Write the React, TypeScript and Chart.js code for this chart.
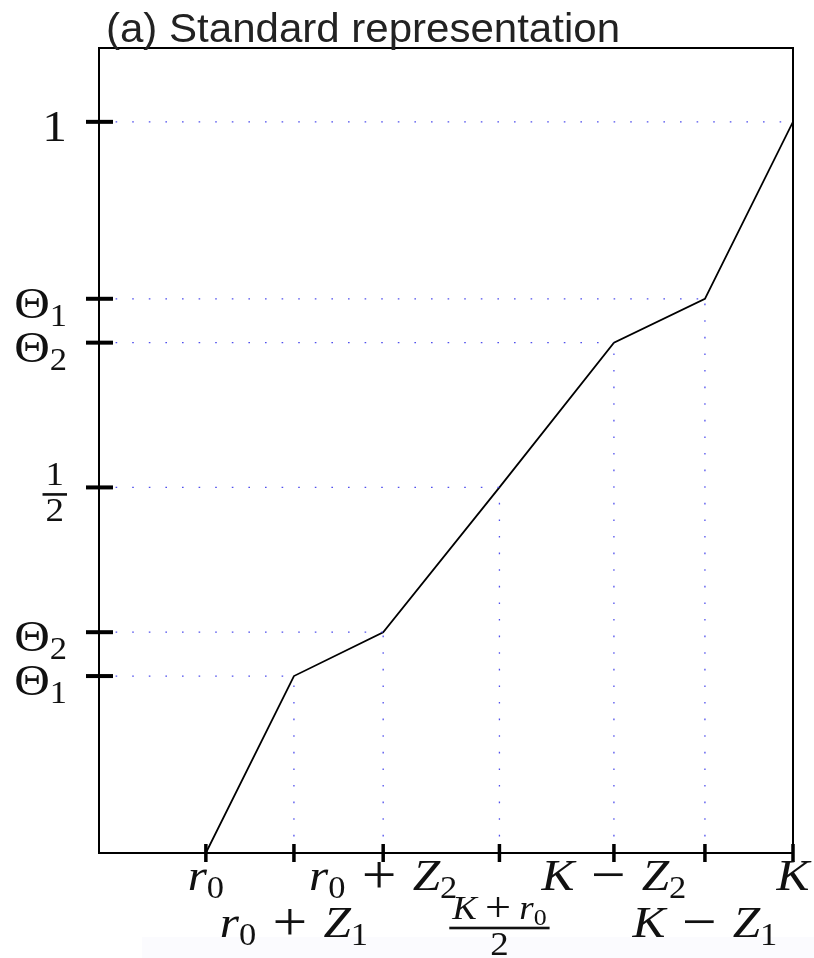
import React, { useEffect, useRef } from "react";
import { Chart, registerables } from "chart.js";

Chart.register(...registerables);

// ---- data ----
const xTickValues = [0, 0.15, 0.302, 0.5, 0.695, 0.85, 1];
const xTickLabels = ["r_0", "r_0 + Z_1", "r_0 + Z_2", "frac:K + r_0|2", "K − Z_2", "K − Z_1", "K"];
const xTickRows = [0, 1, 0, 1, 0, 1, 0];
const yTickValues = [1, 0.758, 0.698, 0.5, 0.302, 0.242];
const yTickLabels = ["1", "Θ_1", "Θ_2", "frac:1|2", "Θ_2", "Θ_1"];
const curveX = [0, 0.15, 0.302, 0.5, 0.695, 0.85, 1];
const curveY = [0, 0.242, 0.302, 0.5, 0.698, 0.758, 1];
const titleText = "(a) Standard representation";

const X_MIN = -0.182;
const X_MAX = 1;
const Y_MIN = 0;
const Y_MAX = 1.101;

const SERIF = '"Liberation Serif", "Times New Roman", serif';
const MAIN = 44;
const SUB_RATIO = 0.7;
const OP_RATIO = 1.25;
const FRAC = 33;
const STRETCH = 1.12;

type Seg = { t: string; it: boolean; sub: boolean; op: boolean };

function parse(s: string): Seg[] {
  const out: Seg[] = [];
  for (let i = 0; i < s.length; i++) {
    const c = s[i];
    if (c === "_") {
      out.push({ t: s[i + 1], it: false, sub: true, op: false });
      i++;
      continue;
    }
    const it = /[A-Za-z]/.test(c);
    out.push({ t: c, it, sub: false, op: c === "+" || c === "−" });
  }
  return out;
}

function sizeFor(seg: Seg, size: number) {
  if (seg.sub) return size * SUB_RATIO;
  if (seg.op) return size * OP_RATIO;
  return size;
}

function fontFor(seg: Seg, size: number) {
  return `${seg.it ? "italic " : ""}${sizeFor(seg, size)}px ${SERIF}`;
}

function segWidth(ctx: CanvasRenderingContext2D, s: Seg, size: number, space: number) {
  if (s.t === " ") return size * space;
  ctx.font = fontFor(s, size);
  return ctx.measureText(s.t).width;
}

function measure(ctx: CanvasRenderingContext2D, segs: Seg[], size: number, space: number) {
  let w = 0;
  for (const s of segs) w += segWidth(ctx, s, size, space);
  return w * STRETCH;
}

function drawSegs(ctx: CanvasRenderingContext2D, segs: Seg[], x: number, base: number, size: number, space: number) {
  ctx.save();
  ctx.translate(x, base);
  ctx.scale(STRETCH, 1);
  let cx = 0;
  ctx.textAlign = "left";
  ctx.textBaseline = "alphabetic";
  for (const s of segs) {
    const cw = segWidth(ctx, s, size, space);
    if (s.t !== " ") {
      ctx.font = fontFor(s, size);
      let dy = 0;
      if (s.sub) dy = size * 0.18;
      if (s.op) dy = size * (OP_RATIO - 1) * 0.27;
      ctx.fillText(s.t, cx, dy);
    }
    cx += cw;
  }
  ctx.restore();
}

function drawLabel(
  ctx: CanvasRenderingContext2D,
  label: string,
  x: number,
  base: number,
  align: "center" | "right",
  fracBar: number
) {
  if (label.startsWith("frac:")) {
    const [num, den] = label.slice(5).split("|");
    const ns = parse(num);
    const ds = parse(den);
    const sp = 0.22;
    const nw = measure(ctx, ns, FRAC, sp);
    const dw = measure(ctx, ds, FRAC, sp);
    const w = Math.max(nw, dw) + 6;
    const cx = align === "center" ? x : x - w / 2;
    drawSegs(ctx, ns, cx - nw / 2, fracBar - 9, FRAC, sp);
    ctx.fillRect(cx - w / 2, fracBar - 1.3, w, 2.6);
    drawSegs(ctx, ds, cx - dw / 2, fracBar + 27, FRAC, sp);
    return;
  }
  const segs = parse(label);
  const sp = 0.33;
  const w = measure(ctx, segs, MAIN, sp);
  const sx = align === "center" ? x - w / 2 : x - w;
  drawSegs(ctx, segs, sx, base, MAIN, sp);
}

const decorPlugin = {
  id: "decor",
  beforeDraw(chart: any) {
    const ctx = chart.ctx as CanvasRenderingContext2D;
    ctx.save();
    ctx.fillStyle = "#ffffff";
    ctx.fillRect(0, 0, chart.width, chart.height);
    ctx.fillStyle = "#fbfbfe";
    ctx.fillRect(142, 937, chart.width - 142, chart.height - 937);
    ctx.restore();
  },
  afterDraw(chart: any) {
    const ctx = chart.ctx as CanvasRenderingContext2D;
    const xs = chart.scales.x;
    const ys = chart.scales.y;
    const a = chart.chartArea;
    ctx.save();
    // box
    ctx.strokeStyle = "#000";
    ctx.lineWidth = 2;
    ctx.strokeRect(a.left, a.top, a.right - a.left, a.bottom - a.top);
    // y ticks
    ctx.fillStyle = "#111";
    ctx.lineWidth = 4;
    yTickValues.forEach((v, i) => {
      const py = ys.getPixelForValue(v);
      ctx.beginPath();
      ctx.moveTo(a.left - 13, py);
      ctx.lineTo(a.left + 14, py);
      ctx.stroke();
      drawLabel(ctx, yTickLabels[i], a.left - 32, py + 19, "right", py + 7);
    });
    // x ticks
    ctx.lineWidth = 3.5;
    xTickValues.forEach((v, i) => {
      const px = xs.getPixelForValue(v);
      ctx.beginPath();
      ctx.moveTo(px, a.bottom - 9);
      ctx.lineTo(px, a.bottom + 9);
      ctx.stroke();
      const base = a.bottom + (xTickRows[i] === 0 ? 37 : 84);
      drawLabel(ctx, xTickLabels[i], px, base, "center", a.bottom + 75);
    });
    // title
    ctx.font = '40px "Liberation Sans", Arial, sans-serif';
    const tw = ctx.measureText(titleText).width;
    const target = 514;
    ctx.fillStyle = "#222";
    ctx.textAlign = "left";
    ctx.textBaseline = "alphabetic";
    ctx.translate(106, 42);
    ctx.scale(target / tw, 1);
    ctx.fillText(titleText, 0, 0);
    ctx.restore();
  },
};

export default function App() {
  const ref = useRef<HTMLCanvasElement | null>(null);
  useEffect(() => {
    if (!ref.current) return;
    const dotted: any[] = [];
    const dotStyle = {
      borderColor: "rgba(60,60,235,0.9)",
      borderWidth: 1.3,
      borderDash: [1.6, 15],
      pointRadius: 0,
      showLine: true,
      fill: false,
    };
    for (let i = 1; i < curveX.length; i++) {
      dotted.push({
        ...dotStyle,
        data: [
          { x: X_MIN, y: curveY[i] },
          { x: curveX[i], y: curveY[i] },
        ],
      });
      if (curveX[i] < X_MAX) {
        dotted.push({
          ...dotStyle,
          data: [
            { x: curveX[i], y: Y_MIN },
            { x: curveX[i], y: curveY[i] },
          ],
        });
      }
    }
    const chart = new Chart(ref.current, {
      type: "scatter",
      data: {
        datasets: [
          ...dotted,
          {
            data: curveX.map((x, i) => ({ x, y: curveY[i] })),
            showLine: true,
            borderColor: "#000",
            borderWidth: 1.8,
            pointRadius: 0,
            fill: false,
          },
        ],
      },
      options: {
        animation: false,
        responsive: false,
        maintainAspectRatio: false,
        layout: { padding: { left: 99, right: 21, top: 48, bottom: 105 } },
        scales: {
          x: { type: "linear", min: X_MIN, max: X_MAX, display: false },
          y: { type: "linear", min: Y_MIN, max: Y_MAX, display: false },
        },
        plugins: { legend: { display: false }, tooltip: { enabled: false }, title: { display: false } },
        elements: { line: { tension: 0 } },
      },
      plugins: [decorPlugin],
    });
    return () => chart.destroy();
  }, []);
  return (
    <div style={{ position: "absolute", left: 0, top: 0, width: 814, height: 958, background: "#fff" }}>
      <canvas ref={ref} width={814} height={958} style={{ width: 814, height: 958, display: "block" }} />
    </div>
  );
}
